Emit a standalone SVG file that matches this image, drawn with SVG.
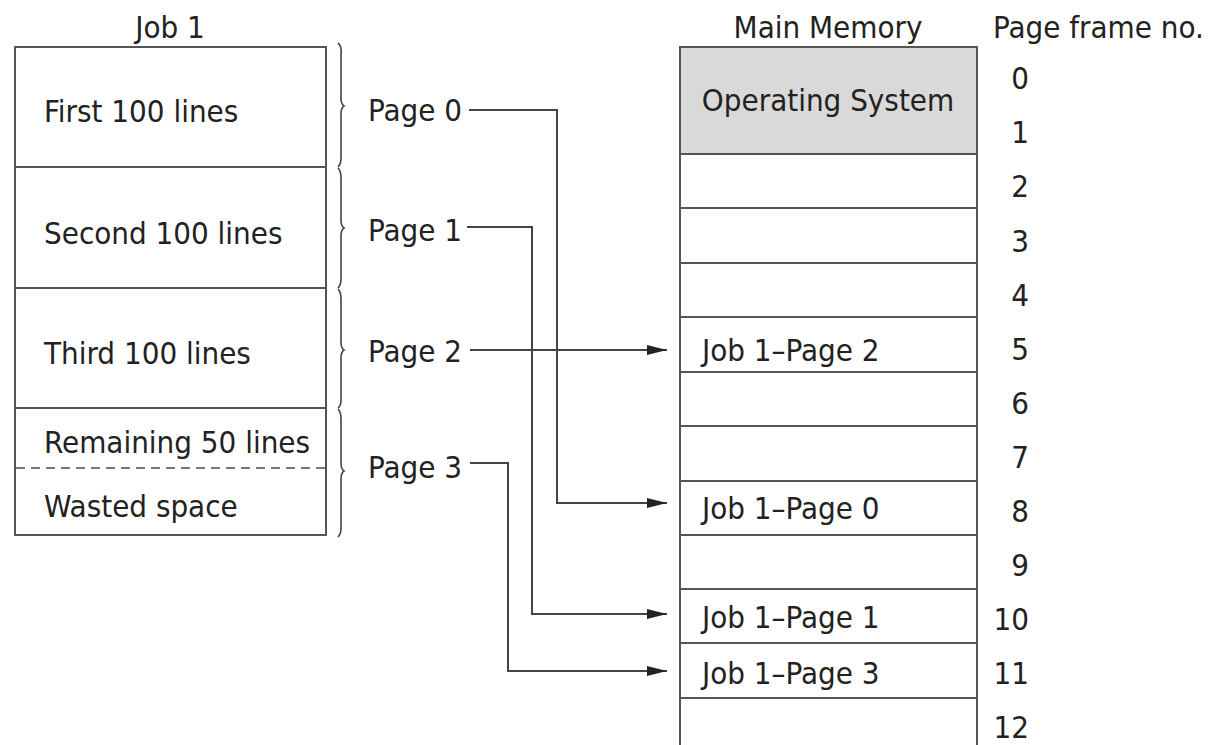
<svg xmlns="http://www.w3.org/2000/svg" width="1221" height="745" viewBox="0 0 1221 745">
<defs>
<style>
text{font-family:"DejaVu Sans Condensed","Liberation Sans",sans-serif;font-size:31px;fill:#222}
.box{fill:#fff;stroke:#555;stroke-width:2}
.ln{stroke:#555;stroke-width:2;fill:none}
.br{stroke:#444;stroke-width:1.6;fill:none}
.c{stroke:#444;stroke-width:2;fill:none}
.num{text-anchor:middle}
.rt{text-anchor:end}
</style>
<marker id="ah" viewBox="0 0 20 10" refX="20" refY="5" markerWidth="20" markerHeight="10" markerUnits="userSpaceOnUse" orient="auto">
<path d="M0,0 L20,5 L0,10 Z" fill="#222"/>
</marker>
</defs>
<rect width="1221" height="745" fill="#fff"/>

<g id="job1">
<text x="170" y="38" class="num">Job 1</text>
<rect class="box" x="15" y="47" width="311" height="488"/>
<line class="ln" x1="15" y1="167" x2="326" y2="167"/>
<line class="ln" x1="15" y1="288" x2="326" y2="288"/>
<line class="ln" x1="15" y1="408" x2="326" y2="408"/>
<line x1="16" y1="468" x2="325" y2="468" stroke="#777" stroke-width="2" stroke-dasharray="9,6"/>
<text x="44" y="122">First 100 lines</text>
<text x="44" y="244">Second 100 lines</text>
<text x="44" y="364">Third 100 lines</text>
<text x="44" y="453">Remaining 50 lines</text>
<text x="44" y="517">Wasted space</text>
</g>

<g id="braces">
<path class="br" d="M338,43 Q342,46 341,55 L341,98 Q341,104 344,106 Q341,108 341,114 L341,158 Q341,164 338,167"/>
<path class="br" d="M338,168 Q341,171 341,178 L341,220 Q341,226 344,228 Q341,230 341,236 L341,279 Q341,285 338,288"/>
<path class="br" d="M338,289 Q341,292 341,299 L341,342 Q341,348 344,350 Q341,352 341,358 L341,400 Q341,406 338,408"/>
<path class="br" d="M338,409 Q341,412 341,419 L341,463 Q341,469 344,471 Q341,473 341,479 L341,528 Q341,534 338,537"/>
</g>

<g id="pages">
<text x="368" y="121">Page 0</text>
<text x="368" y="241">Page 1</text>
<text x="368" y="362">Page 2</text>
<text x="368" y="478">Page 3</text>
</g>

<g id="memory">
<text x="828" y="38" class="num">Main Memory</text>
<rect x="680" y="47" width="297" height="107" fill="#d9d9d9" stroke="#555" stroke-width="2"/>
<text x="828" y="111" class="num">Operating System</text>
<rect class="box" x="680" y="154" width="297" height="600"/>
<line class="ln" x1="680" y1="208" x2="977" y2="208"/>
<line class="ln" x1="680" y1="263" x2="977" y2="263"/>
<line class="ln" x1="680" y1="317" x2="977" y2="317"/>
<line class="ln" x1="680" y1="372" x2="977" y2="372"/>
<line class="ln" x1="680" y1="426" x2="977" y2="426"/>
<line class="ln" x1="680" y1="481" x2="977" y2="481"/>
<line class="ln" x1="680" y1="535" x2="977" y2="535"/>
<line class="ln" x1="680" y1="589" x2="977" y2="589"/>
<line class="ln" x1="680" y1="643" x2="977" y2="643"/>
<line class="ln" x1="680" y1="698" x2="977" y2="698"/>
<text x="702" y="361">Job 1–Page 2</text>
<text x="702" y="519">Job 1–Page 0</text>
<text x="702" y="628">Job 1–Page 1</text>
<text x="702" y="684">Job 1–Page 3</text>
</g>

<g id="frames">
<text x="993" y="38">Page frame no.</text>
<text x="1029" y="89" class="rt">0</text>
<text x="1029" y="143" class="rt">1</text>
<text x="1029" y="197" class="rt">2</text>
<text x="1029" y="252" class="rt">3</text>
<text x="1029" y="306" class="rt">4</text>
<text x="1029" y="360" class="rt">5</text>
<text x="1029" y="414" class="rt">6</text>
<text x="1029" y="468" class="rt">7</text>
<text x="1029" y="522" class="rt">8</text>
<text x="1029" y="576" class="rt">9</text>
<text x="1029" y="630" class="rt">10</text>
<text x="1029" y="684" class="rt">11</text>
<text x="1029" y="738" class="rt">12</text>
</g>

<g id="connectors">
<polyline class="c" points="469,110 557,110 557,503 667,503" marker-end="url(#ah)"/>
<polyline class="c" points="467,227 532,227 532,614 667,614" marker-end="url(#ah)"/>
<polyline class="c" points="470,350 667,350" marker-end="url(#ah)"/>
<polyline class="c" points="470,463 508,463 508,671 667,671" marker-end="url(#ah)"/>
</g>
</svg>
